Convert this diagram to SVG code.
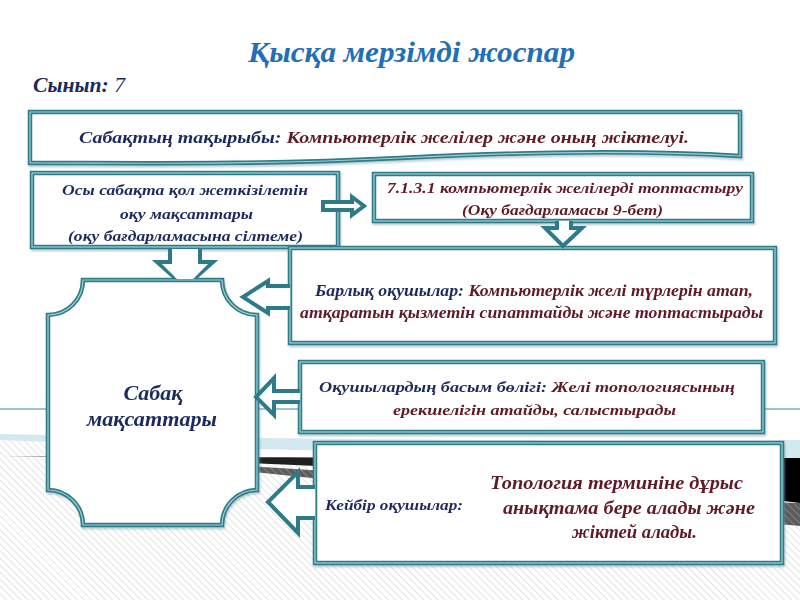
<svg xmlns="http://www.w3.org/2000/svg" width="800" height="600" viewBox="0 0 800 600">
<defs>
<pattern id="hatch" width="5" height="5" patternUnits="userSpaceOnUse" patternTransform="rotate(-45)">
<rect width="5" height="5" fill="#ffffff"/>
<line x1="0" y1="0" x2="0" y2="5" stroke="#dcdcdc" stroke-width="1.6"/>
</pattern>
<pattern id="hatchDark" width="5" height="5" patternUnits="userSpaceOnUse" patternTransform="rotate(-45)">
<rect width="5" height="5" fill="#5c5c5c"/>
<line x1="0" y1="0" x2="0" y2="5" stroke="#8a8a8a" stroke-width="1.6"/>
</pattern>
<linearGradient id="wedge" x1="0" y1="0" x2="1" y2="0">
<stop offset="0" stop-color="#777"/>
<stop offset="0.3" stop-color="#222"/>
<stop offset="1" stop-color="#000"/>
</linearGradient>
<filter id="sh" x="-5%" y="-5%" width="110%" height="115%">
<feDropShadow dx="1" dy="2" stdDeviation="1.2" flood-color="#6a8f96" flood-opacity="0.45"/>
</filter>
<style>
.box{fill:#ffffff;stroke:#2d7b89;stroke-width:4.5;stroke-linejoin:miter}
.inner{fill:none;stroke:#9fd0d8;stroke-width:1.2}
.arr{fill:#ffffff;stroke:#2d7b89;stroke-width:4;stroke-linejoin:miter}
.arrIn{fill:none;stroke:#9fd0d8;stroke-width:1}
.t{font-family:"Liberation Serif","Times New Roman",serif;font-weight:bold;font-style:italic}
.nv{fill:#1c2a5e}
.rd{fill:#5e1a26}
</style>
</defs>

<!-- background -->
<rect width="800" height="600" fill="#ffffff"/>
<path d="M0,437 C250,452 550,500 800,522 V600 H0 Z" fill="url(#hatch)"/>
<path d="M0,434 C300,440 600,441 800,440 V458 C600,458 300,452 0,440 Z" fill="#d3e8ef"/>
<path d="M4,456 C300,458 600,458 800,458 V503 C600,480 350,463 4,456 Z" fill="url(#wedge)"/>
<path d="M150,461 C400,472 600,497 800,503 V526 C600,508 350,482 150,461 Z" fill="url(#hatchDark)"/>
<line x1="0" y1="409" x2="800" y2="409" stroke="#3d8797" stroke-width="1"/>

<!-- title -->
<text class="t" x="248" y="62" font-size="30" fill="#1f70b6" textLength="327" lengthAdjust="spacingAndGlyphs">Қысқа мерзімді жоспар</text>
<text class="t nv" x="33" y="92" font-size="21" textLength="92" lengthAdjust="spacingAndGlyphs">Сынып:<tspan font-weight="normal"> 7</tspan></text>

<!-- nodes -->
<g id="topic" filter="url(#sh)">
<path class="box" d="M30,112 H740 V156 C640,150 520,152 400,158 C260,165 130,163 30,163 Z"/>
<path class="inner" d="M30,112 H740 V156 C640,150 520,152 400,158 C260,165 130,163 30,163 Z"/>
<text class="t" x="79" y="143" font-size="17" textLength="610" lengthAdjust="spacingAndGlyphs"><tspan class="nv">Сабақтың тақырыбы: </tspan><tspan class="rd">Компьютерлік желілер және оның жіктелуі.</tspan></text>
</g>

<g id="objectives-ref" filter="url(#sh)">
<rect class="box" x="32" y="173" width="306" height="74"/>
<rect class="inner" x="32" y="173" width="306" height="74"/>
<text class="t nv" x="62" y="195" font-size="15" textLength="246" lengthAdjust="spacingAndGlyphs">Осы сабақта қол жеткізілетін</text>
<text class="t nv" x="120" y="219" font-size="15" textLength="133" lengthAdjust="spacingAndGlyphs">оқу мақсаттары</text>
<text class="t nv" x="68" y="241" font-size="15" textLength="235" lengthAdjust="spacingAndGlyphs">(оқу бағдарламасына сілтеме)</text>
</g>

<g id="curriculum" filter="url(#sh)">
<rect class="box" x="374" y="174" width="378" height="47"/>
<rect class="inner" x="374" y="174" width="378" height="47"/>
<text class="t rd" x="387" y="193" font-size="15" textLength="356" lengthAdjust="spacingAndGlyphs">7.1.3.1 компьютерлік желілерді топтастыру</text>
<text class="t rd" x="462" y="215" font-size="15" textLength="201" lengthAdjust="spacingAndGlyphs">(Оқу бағдарламасы 9-бет)</text>
</g>

<g id="all-students" filter="url(#sh)">
<rect class="box" x="290" y="248" width="485" height="95"/>
<rect class="inner" x="290" y="248" width="485" height="95"/>
<text class="t" x="315" y="296" font-size="16" textLength="438" lengthAdjust="spacingAndGlyphs"><tspan class="nv">Барлық оқушылар: </tspan><tspan class="rd">Компьютерлік желі түрлерін атап,</tspan></text>
<text class="t rd" x="300" y="318" font-size="16" textLength="463" lengthAdjust="spacingAndGlyphs">атқаратын қызметін сипаттайды және топтастырады</text>
</g>

<g id="lesson-goals" filter="url(#sh)">
<path class="box" d="M83,280 H222 A35,35 0 0 0 257,315 V490 A35,35 0 0 0 222,525 H83 A35,35 0 0 0 48,490 V315 A35,35 0 0 0 83,280 Z"/>
<path class="inner" d="M83,280 H222 A35,35 0 0 0 257,315 V490 A35,35 0 0 0 222,525 H83 A35,35 0 0 0 48,490 V315 A35,35 0 0 0 83,280 Z"/>
<text class="t nv" x="153" y="400" font-size="22" text-anchor="middle">Сабақ</text>
<text class="t nv" x="87" y="426" font-size="22" textLength="130" lengthAdjust="spacingAndGlyphs">мақсаттары</text>
</g>

<g id="most-students" filter="url(#sh)">
<rect class="box" x="300" y="362" width="463" height="70"/>
<rect class="inner" x="300" y="362" width="463" height="70"/>
<text class="t" x="319" y="392" font-size="15" textLength="416" lengthAdjust="spacingAndGlyphs"><tspan class="nv">Оқушылардың  басым бөлігі: </tspan><tspan class="rd">Желі топологиясының</tspan></text>
<text class="t rd" x="393" y="415" font-size="15" textLength="283" lengthAdjust="spacingAndGlyphs">ерекшелігін атайды, салыстырады</text>
</g>

<g id="some-students" filter="url(#sh)">
<rect class="box" x="315" y="443" width="467" height="120"/>
<rect class="inner" x="315" y="443" width="467" height="120"/>
<text class="t nv" x="325" y="510" font-size="15" textLength="138" lengthAdjust="spacingAndGlyphs">Кейбір оқушылар:</text>
<text class="t rd" x="490" y="489" font-size="18" textLength="253" lengthAdjust="spacingAndGlyphs">Топология терминіне  дұрыс</text>
<text class="t rd" x="503" y="514" font-size="18" textLength="252" lengthAdjust="spacingAndGlyphs">анықтама бере алады және</text>
<text class="t rd" x="572" y="538" font-size="18" textLength="125" lengthAdjust="spacingAndGlyphs">жіктей алады.</text>
</g>

<!-- connectors -->
<g id="connectors">
<path class="arr" d="M323,202 H352 V197 L364,206 L352,215 V210 H323 Z"/>
<path class="arr" d="M557,221 V228 H545 L563,246 L582,228 H571 V221"/>
<path class="arr" d="M170,249 V262 H157 L175,278 M195,278 L213,262 H200 V249"/>
<path d="M172,249 V264 H162 L177,279 H193 L208,264 H198 V249 Z" fill="#ffffff"/>
<path class="arr" d="M290,286 H268 V281 L243,297 L268,313 V308 H290"/>
<path class="arr" d="M300,391 H274 V378 L256,397 L274,415 V402 H300"/>
<path class="arr" d="M315,487 H298 V472 L268,502 L298,533 V518 H315"/>
</g>
</svg>
